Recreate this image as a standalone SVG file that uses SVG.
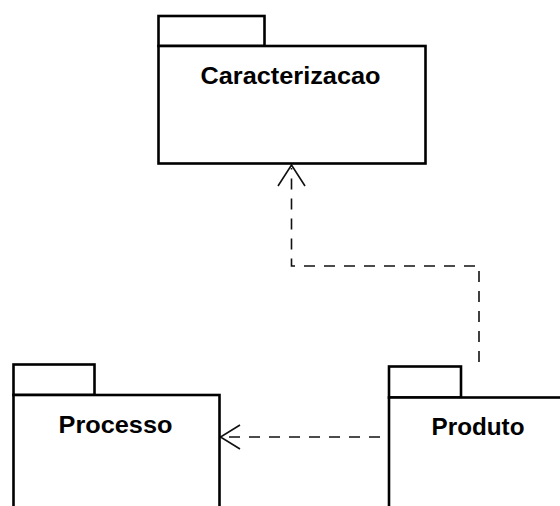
<svg xmlns="http://www.w3.org/2000/svg" width="560" height="506" viewBox="0 0 560 506">
  <style>
    .pkg { fill: #ffffff; stroke: #000000; stroke-width: 2.6; }
    .name { font-family: "Liberation Sans", Arial, sans-serif; font-weight: bold; font-size: 24px; fill: #000000; text-anchor: middle; }
    .dep { fill: none; stroke: #111111; stroke-width: 1.6; stroke-dasharray: 11 9; }
    .head { fill: none; stroke: #111111; stroke-width: 1.6; }
  </style>
  <rect x="0" y="0" width="560" height="506" fill="#ffffff"/>

  <!-- dependencies -->
  <g id="connectors">
    <path class="dep" d="M479,362 V266 H291.5 V168"/>
    <path class="head" d="M278,186 L291.5,165 L305,186"/>
    <path class="dep" d="M380,437 H222"/>
    <path class="head" d="M240,425 L220.5,437 L240,449"/>
  </g>

  <g id="caracterizacao">
    <rect class="pkg" x="158.5" y="16" width="106" height="30"/>
    <rect class="pkg" x="158.5" y="46" width="267" height="117.5"/>
    <text class="name" x="290.5" y="84" textLength="180" lengthAdjust="spacingAndGlyphs">Caracterizacao</text>
  </g>

  <g id="processo">
    <rect class="pkg" x="13.5" y="364.5" width="81" height="30.5"/>
    <rect class="pkg" x="13.5" y="395" width="206" height="130"/>
    <text class="name" x="115.5" y="433" textLength="114" lengthAdjust="spacingAndGlyphs">Processo</text>
  </g>

  <g id="produto">
    <rect class="pkg" x="389" y="366.5" width="72" height="31"/>
    <rect class="pkg" x="389" y="397.5" width="200" height="130"/>
    <text class="name" x="478" y="435" textLength="93" lengthAdjust="spacingAndGlyphs">Produto</text>
  </g>
</svg>
